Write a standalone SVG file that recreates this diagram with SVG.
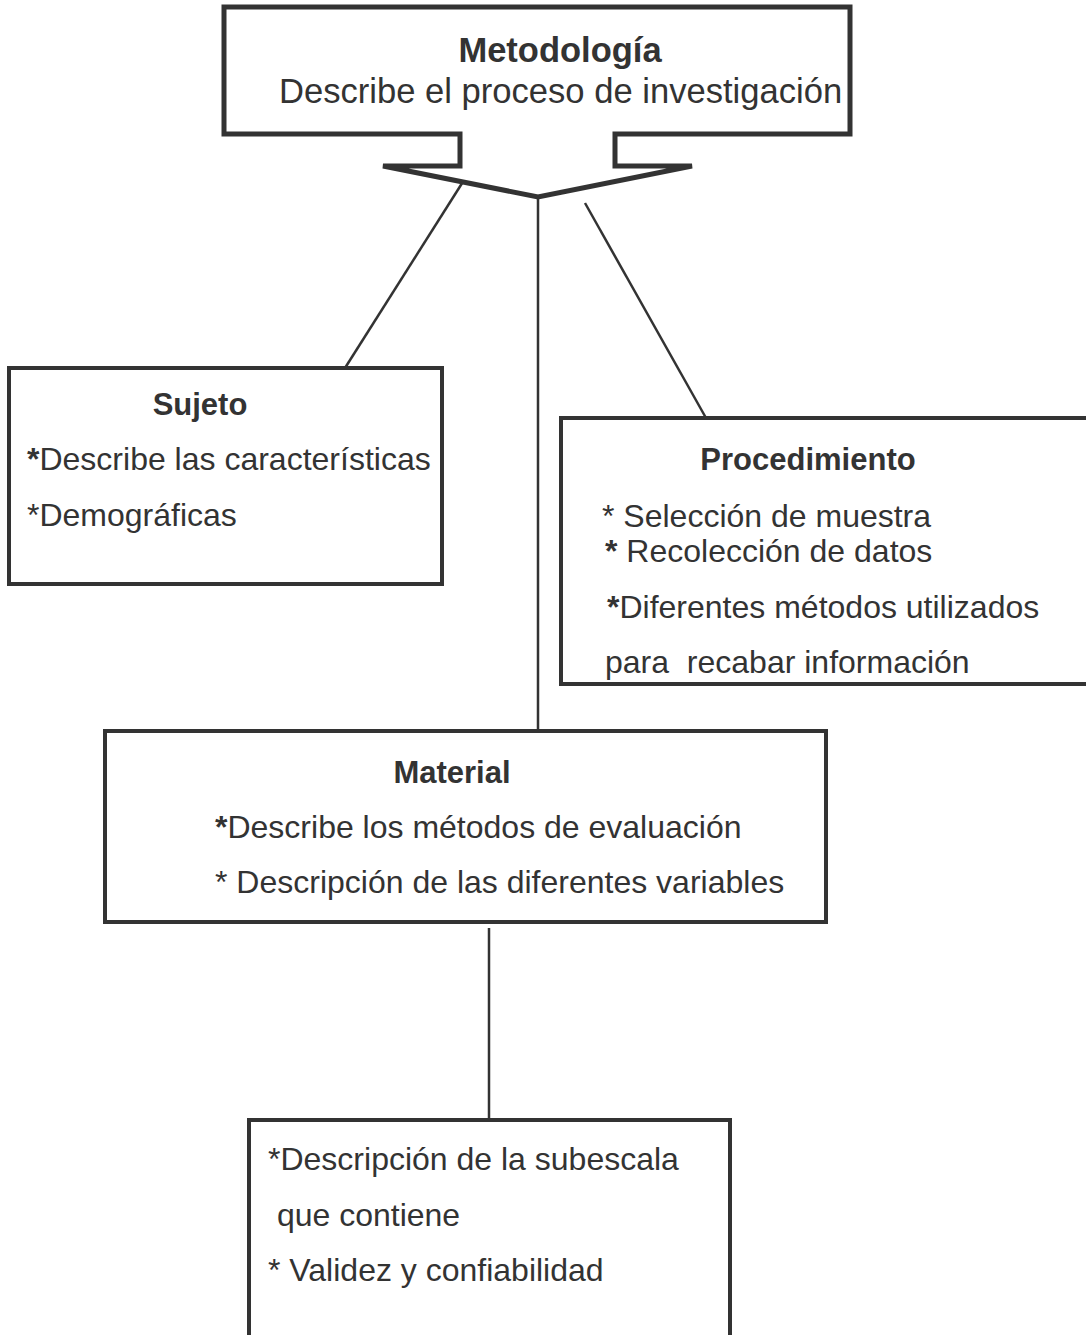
<svg xmlns="http://www.w3.org/2000/svg" width="1086" height="1335" viewBox="0 0 1086 1335">
<style>
text{font-family:"Liberation Sans",Arial,sans-serif;fill:#333;}
.t{font-size:32px;}
.h{font-size:31px;font-weight:bold;}
.box{fill:#fff;stroke:#333;stroke-width:4;}
.ln{stroke:#333;stroke-width:2.5;fill:none;}
</style>
<rect width="1086" height="1335" fill="#fff"/>
<g id="connectors">
<line class="ln" x1="466" y1="177" x2="345" y2="368"/>
<line class="ln" x1="538" y1="197" x2="538" y2="731"/>
<line class="ln" x1="585" y1="203" x2="706" y2="418"/>
<line class="ln" x1="489" y1="928" x2="489" y2="1120"/>
</g>
<g id="metodologia">
<path d="M224,7 L850,7 L850,134 L615,134 L615,166 L692,166 L538,197 L383,166 L460,166 L460,134 L224,134 Z" fill="#fff" stroke="#333" stroke-width="5" stroke-linejoin="miter"/>
<text x="560" y="62" text-anchor="middle" style="font-size:34.5px;font-weight:bold">Metodología</text>
<text x="279" y="103" style="font-size:34.6px">Describe el proceso de investigación</text>
</g>
<g id="sujeto">
<rect class="box" x="9" y="368" width="433" height="216"/>
<text class="h" x="200" y="415" text-anchor="middle">Sujeto</text>
<text class="t" x="27" y="470"><tspan font-weight="bold">*</tspan>Describe las características</text>
<text class="t" x="27" y="526">*Demográficas</text>
</g>
<g id="procedimiento">
<rect class="box" x="561" y="418" width="540" height="266"/>
<text class="h" x="808" y="470" text-anchor="middle">Procedimiento</text>
<text class="t" x="602" y="527">* Selección de muestra</text>
<text class="t" x="605" y="562"><tspan font-weight="bold">*</tspan> Recolección de datos</text>
<text class="t" x="607" y="618"><tspan font-weight="bold">*</tspan>Diferentes métodos utilizados</text>
<text class="t" x="605" y="673" xml:space="preserve">para  recabar información</text>
</g>
<g id="material">
<rect class="box" x="105" y="731" width="721" height="191"/>
<text class="h" x="452" y="783" text-anchor="middle">Material</text>
<text class="t" x="215" y="838"><tspan font-weight="bold">*</tspan>Describe los métodos de evaluación</text>
<text class="t" x="215" y="893">* Descripción de las diferentes variables</text>
</g>
<g id="subescala">
<rect class="box" x="249" y="1120" width="481" height="230"/>
<text class="t" x="268" y="1170">*Descripción de la subescala</text>
<text class="t" x="268" y="1226" xml:space="preserve"> que contiene</text>
<text class="t" x="268" y="1281">* Validez y confiabilidad</text>
</g>
</svg>
